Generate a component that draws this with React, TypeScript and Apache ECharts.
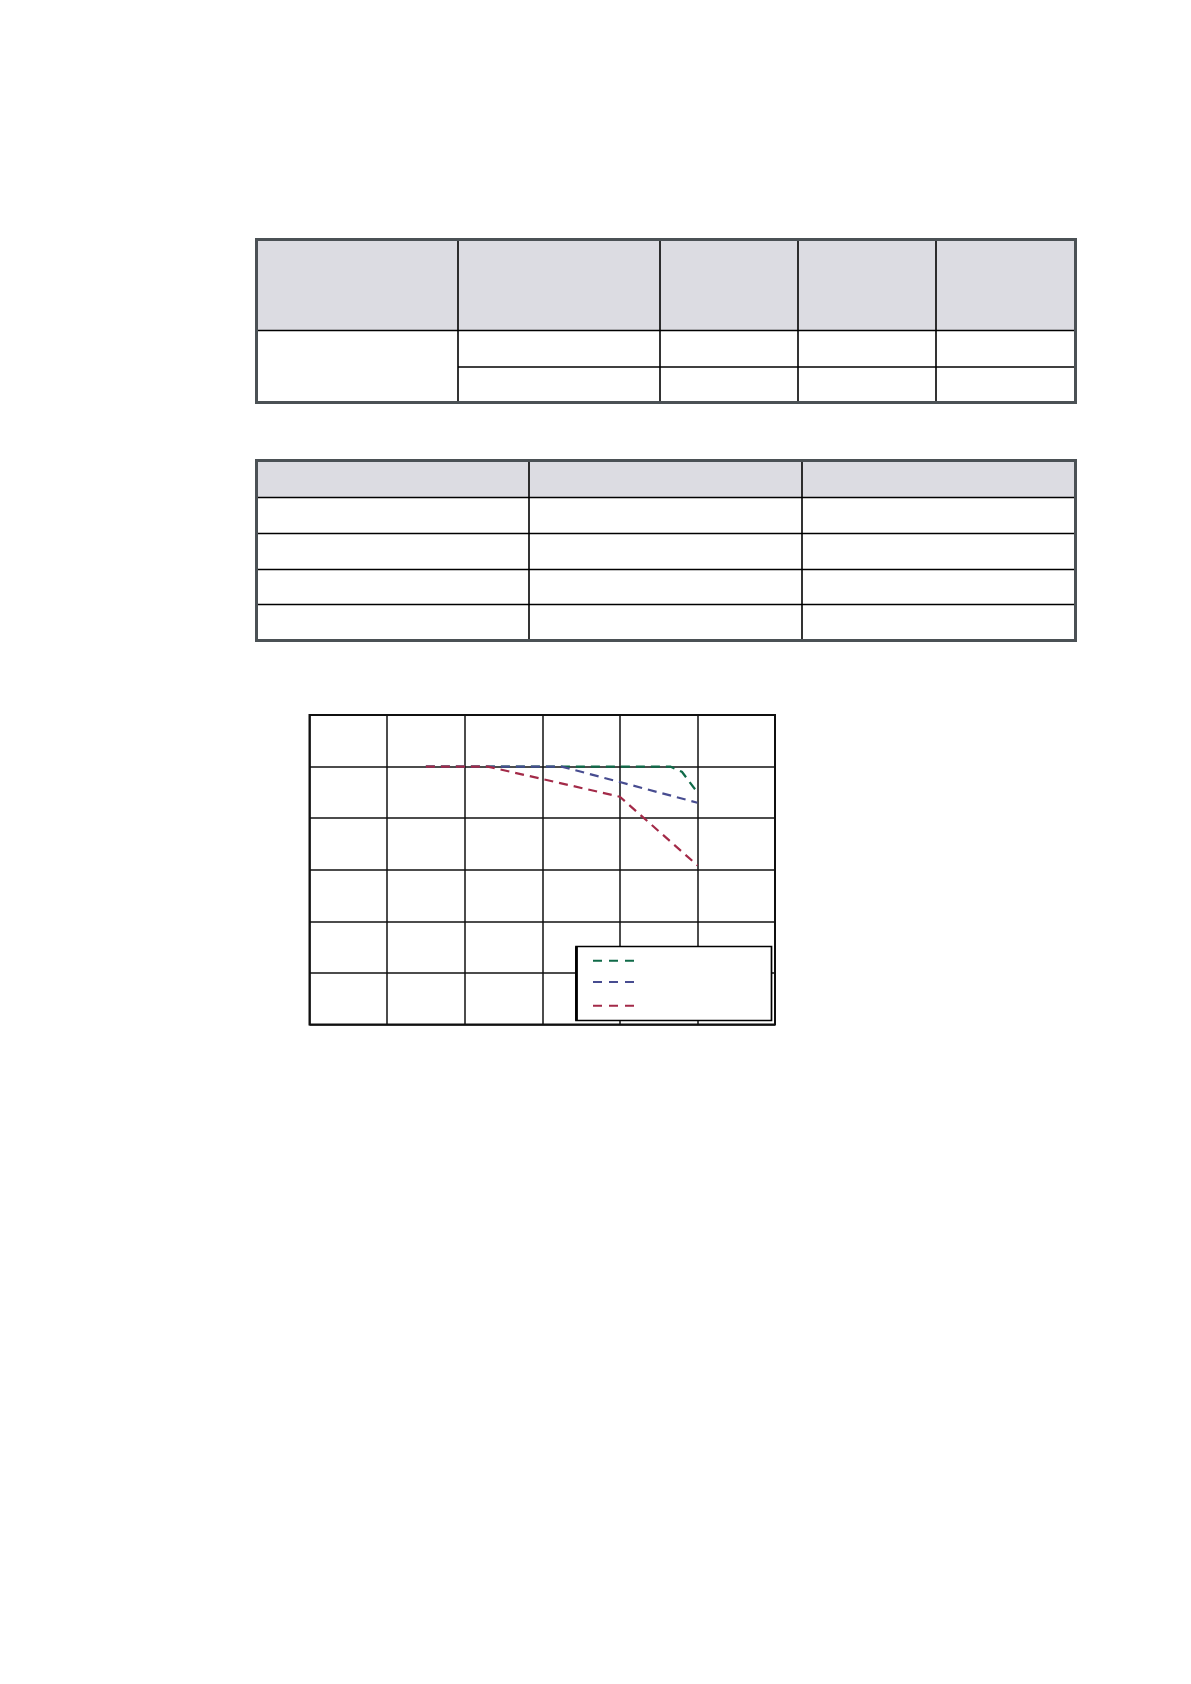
import { useEffect, useRef } from "react";
import * as echarts from "echarts";

// curve data (x in axis units, y in % of rated)
const xTicks = [0, 20, 40, 60, 80, 100, 120];
const yTicks = [0, 20, 40, 60, 80, 100, 120];
const seriesNames = ["Curve A", "Curve B", "Curve C"];
const seriesColors = ["#0f6a48", "#474c90", "#a32a48"];
const curveA = [
  [30, 100],
  [93, 100],
  [96, 98],
  [100, 90],
];
const curveB = [
  [30, 100],
  [65, 100],
  [100, 86],
];
const curveC = [
  [30, 100],
  [46, 100],
  [80, 88.3],
  [100, 61.7],
];

// layout of the empty tables above the chart
const tableLeft = 256.5;
const tableRight = 1075.5;
const t1 = { top: 239.5, head: 330.5, rows: [367], bottom: 402.5, cols: [458, 660, 798, 936] };
const t2 = { top: 460.5, head: 497.5, rows: [533.5, 569.5, 604.5], bottom: 640.5, cols: [529, 802] };

const outerColor = "#4b5155";
const headFill = "#dcdce2";

function tableGraphics(t: any, mergedFirstCol: boolean) {
  const els: any[] = [];
  els.push({
    type: "rect",
    shape: { x: tableLeft, y: t.top, width: tableRight - tableLeft, height: t.head - t.top },
    style: { fill: headFill },
  });
  // header bottom line
  els.push({
    type: "line",
    shape: { x1: tableLeft, y1: t.head, x2: tableRight, y2: t.head },
    style: { stroke: "#000", lineWidth: 1.6 },
  });
  t.rows.forEach((y: number) => {
    const x1 = mergedFirstCol ? t.cols[0] : tableLeft;
    els.push({
      type: "line",
      shape: { x1, y1: y, x2: tableRight, y2: y },
      style: { stroke: "#000", lineWidth: 1.6 },
    });
  });
  t.cols.forEach((x: number) => {
    els.push({
      type: "line",
      shape: { x1: x, y1: t.top, x2: x, y2: t.bottom },
      style: { stroke: "#000", lineWidth: 1.6 },
    });
  });
  els.push({
    type: "rect",
    shape: { x: tableLeft, y: t.top, width: tableRight - tableLeft, height: t.bottom - t.top },
    style: { fill: "none", stroke: outerColor, lineWidth: 3 },
  });
  return els;
}

const legendCenters = [960.7, 982, 1005.7];

export default function App() {
  const chartRef = useRef(null);

  useEffect(() => {
    const chart = echarts.init(chartRef.current, null, { renderer: "svg" });

    const curves = [curveA, curveB, curveC];

    const options = {
      animation: false,
      backgroundColor: "#ffffff",
      grid: {
        left: 309.5,
        top: 715,
        width: 465.5,
        height: 309.5,
        show: true,
        borderColor: "#111",
        borderWidth: 2,
        backgroundColor: "transparent",
      },
      xAxis: {
        type: "value",
        min: xTicks[0],
        max: xTicks[xTicks.length - 1],
        interval: xTicks[1] - xTicks[0],
        axisLabel: { show: false },
        axisTick: { show: false },
        axisLine: { show: false },
        splitLine: { show: true, lineStyle: { color: "#111", width: 1.5 } },
      },
      yAxis: {
        type: "value",
        min: yTicks[0],
        max: yTicks[yTicks.length - 1],
        interval: yTicks[1] - yTicks[0],
        axisLabel: { show: false },
        axisTick: { show: false },
        axisLine: { show: false },
        splitLine: { show: true, lineStyle: { color: "#111", width: 1.5 } },
      },
      graphic: [
        ...tableGraphics(t1, true),
        ...tableGraphics(t2, false),
        {
          type: "rect",
          z: 5,
          shape: { x: 576, y: 946.5, width: 195.5, height: 74 },
          style: { fill: "#ffffff", stroke: "#000", lineWidth: 1.7 },
        },
        {
          type: "line",
          z: 6,
          shape: { x1: 576.5, y1: 946.5, x2: 576.5, y2: 1020.5 },
          style: { stroke: "#000", lineWidth: 2.8 },
        },
        // legend sample lines
        ...seriesNames.map((_, i) => ({
          type: "line",
          z: 7,
          shape: { x1: 593, y1: legendCenters[i], x2: 635, y2: legendCenters[i] },
          style: { stroke: seriesColors[i], lineWidth: 2, lineDash: [9, 7] },
        })),
      ],
      series: curves.map((data, i) => ({
        name: seriesNames[i],
        type: "line",
        data,
        symbol: "none",
        z: 2 + i,
        lineStyle: { color: seriesColors[i], width: 2.2, type: [9, 6] },
        itemStyle: { color: seriesColors[i] },
      })),
    };

    chart.setOption(options);

    return () => {
      chart.dispose();
    };
  }, []);

  return (
    <div
      ref={chartRef}
      style={{ position: "absolute", left: 0, top: 0, width: "1191px", height: "1684px" }}
    />
  );
}
